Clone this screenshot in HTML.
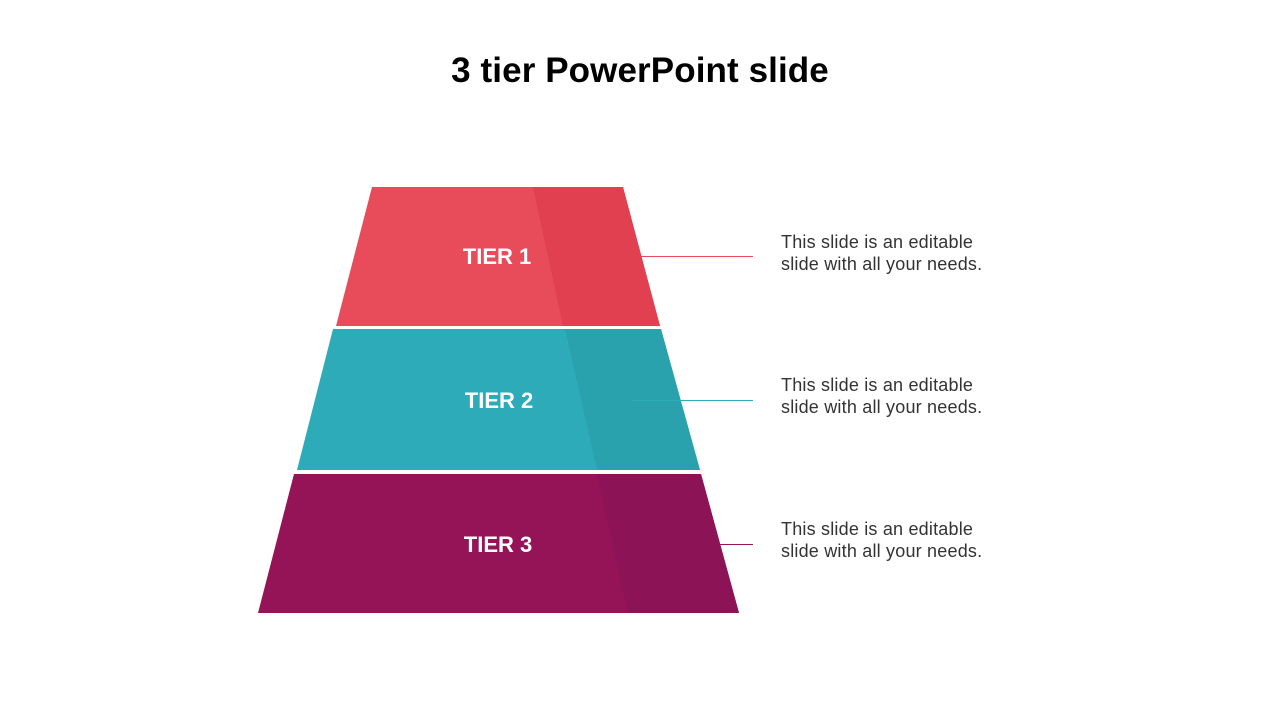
<!DOCTYPE html>
<html><head><meta charset="utf-8"><style>
html,body{margin:0;padding:0;background:#fff;}
body{width:1280px;height:720px;position:relative;overflow:hidden;font-family:"Liberation Sans",sans-serif;}
h1{position:absolute;top:51px;left:0;width:1280px;text-align:center;margin:0;font-size:35px;font-weight:bold;color:#000;letter-spacing:0.1px;}
.t{position:absolute;left:781px;font-size:18px;line-height:22px;color:#333;letter-spacing:0.2px;}
</style></head><body>
<h1>3 tier PowerPoint slide</h1>
<svg width="1280" height="720" style="position:absolute;left:0;top:0">
<polygon points="372,187 623,187 660,326 336,326" fill="#E84C5A"/>
<polygon points="533,187 623,187 660,326 563,326" fill="#E0404F"/>
<polygon points="333,329 661,329 700,470 297,470" fill="#2DABB9"/>
<polygon points="565,329 661,329 700,470 597,470" fill="#29A2AE"/>
<polygon points="294,474 701,474 739,613 258,613" fill="#941457"/>
<polygon points="597,474 701,474 739,613 628,613" fill="#8C1356"/>
<line x1="640" y1="256.5" x2="753" y2="256.5" stroke="#E84C5A" stroke-width="1"/>
<line x1="632" y1="400.5" x2="753" y2="400.5" stroke="#2DABB9" stroke-width="1"/>
<line x1="718" y1="544.5" x2="753" y2="544.5" stroke="#941457" stroke-width="1"/>
<g font-family="Liberation Sans, sans-serif" font-weight="bold" font-size="22" fill="#fff" text-anchor="middle">
<text x="497" y="264">TIER 1</text>
<text x="499" y="408">TIER 2</text>
<text x="498" y="552">TIER 3</text>
</g>
</svg>
<div class="t" style="top:231px">This slide is an editable<br>slide with all your needs.</div>
<div class="t" style="top:374px">This slide is an editable<br>slide with all your needs.</div>
<div class="t" style="top:518px">This slide is an editable<br>slide with all your needs.</div>
</body></html>
